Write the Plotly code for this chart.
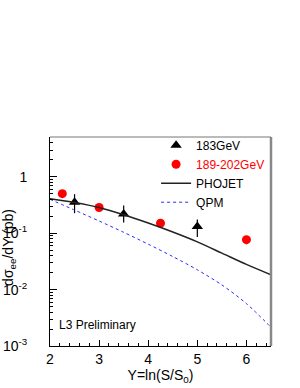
import plotly.graph_objects as go

# ---- data ----
x_183 = [2.5, 3.5, 5.0]
y_183 = [0.356, 0.219, 0.132]
err_up_183 = [0.138, 0.091, 0.043]
err_dn_183 = [0.129, 0.064, 0.046]

x_189 = [2.25, 3.0, 4.25, 6.0]
y_189 = [0.505, 0.287, 0.151, 0.077]
err_189 = [0.03, 0.018, 0.01, 0.013]

x_model = [2.0, 2.5, 3.0, 3.5, 4.0, 4.5, 5.0, 5.5, 6.0, 6.5]
y_phojet = [0.41, 0.353, 0.287, 0.213, 0.152, 0.1054, 0.0705, 0.0445, 0.028, 0.0183]
y_qpm = [0.40, 0.258, 0.165, 0.104, 0.0641, 0.0386, 0.0225, 0.0121, 0.00565, 0.00215]

y_major = [0.001, 0.01, 0.1, 1]
y_major_text = ["10<sup>-3</sup>", "10<sup>-2</sup>", "10<sup>-1</sup>", "1"]
y_minor = [m * 10.0 ** e for e in (-3, -2, -1, 0) for m in range(2, 10) if m * 10.0 ** e < 5.1]
x_major = [2, 3, 4, 5, 6]

FONT = "Liberation Sans, Arial, sans-serif"

fig = go.Figure()
fig.add_trace(go.Scatter(
    x=x_183, y=y_183, mode="markers", name="183GeV",
    marker=dict(symbol="triangle-up", size=10, color="black"),
    error_y=dict(type="data", symmetric=False, array=err_up_183, arrayminus=err_dn_183,
                 color="black", thickness=1.2, width=0),
))
fig.add_trace(go.Scatter(
    x=x_189, y=y_189, mode="markers",
    name="<span style='color:#ff0000'>189-202GeV</span>",
    marker=dict(symbol="circle", size=9, color="#ff0000"),
    error_y=dict(type="data", array=err_189, color="#ff0000", thickness=1.2, width=0),
))
fig.add_trace(go.Scatter(
    x=x_model, y=y_phojet, mode="lines", name="PHOJET",
    line=dict(color="#222222", width=1.5, shape="spline", smoothing=0.8),
))
fig.add_trace(go.Scatter(
    x=x_model, y=y_qpm, mode="lines", name="QPM",
    line=dict(color="#2a2aff", width=1, dash="dot", shape="spline", smoothing=0.8),
))

fig.update_layout(
    width=300, height=388,
    margin=dict(l=50, r=29, t=137, b=42),
    paper_bgcolor="white", plot_bgcolor="white",
    font=dict(family=FONT, size=14, color="black"),
    showlegend=True,
    legend=dict(x=0.48, y=1.03, xanchor="left", yanchor="top",
                bgcolor="rgba(0,0,0,0)", font=dict(size=12, family=FONT),
                itemwidth=30, tracegroupgap=0),
    xaxis=dict(
        range=[2, 6.5], tickvals=x_major, ticks="inside", ticklen=6, tickwidth=1,
        tickcolor="black", showline=True, linecolor="black", linewidth=1,
        showgrid=False, zeroline=False, automargin=False,
        minor=dict(dtick=0.2, ticks="inside", ticklen=3, tickcolor="black", showgrid=False),
        title=dict(text="Y=ln(S/S<sub>0</sub>)", font=dict(size=14), standoff=4),
    ),
    yaxis=dict(
        type="log", range=[-3, 0.708], tickvals=y_major, ticktext=y_major_text,
        ticks="inside", ticklen=7, tickwidth=1, tickcolor="black",
        showline=True, linecolor="black", linewidth=1, showgrid=False, zeroline=False,
        automargin=False,
        minor=dict(tickvals=y_minor, ticks="inside", ticklen=3, tickcolor="black", showgrid=False),
        ticklabelstandoff=19,
    ),
    shapes=[
        dict(type="line", xref="paper", yref="paper", x0=0, x1=1, y0=1, y1=1,
             line=dict(color="#777777", width=1)),
        dict(type="line", xref="paper", yref="paper", x0=1, x1=1, y0=0, y1=1,
             line=dict(color="#888888", width=2.5)),
    ],
    annotations=[
        dict(text="L3 Preliminary", xref="paper", yref="paper", x=0.032, y=0.10,
             xanchor="left", yanchor="middle", showarrow=False,
             font=dict(size=12, family=FONT, color="black")),
        dict(text="dσ<sub>ee</sub>/dY (pb)", xref="paper", yref="paper",
             x=-0.185, y=0.47, xanchor="center", yanchor="middle", textangle=-90,
             showarrow=False, font=dict(size=14, family=FONT, color="black")),
    ],
)

fig.write_html("out.html", config={"displayModeBar": False},
               post_script="document.body.style.margin='0';document.body.style.padding='0';")
